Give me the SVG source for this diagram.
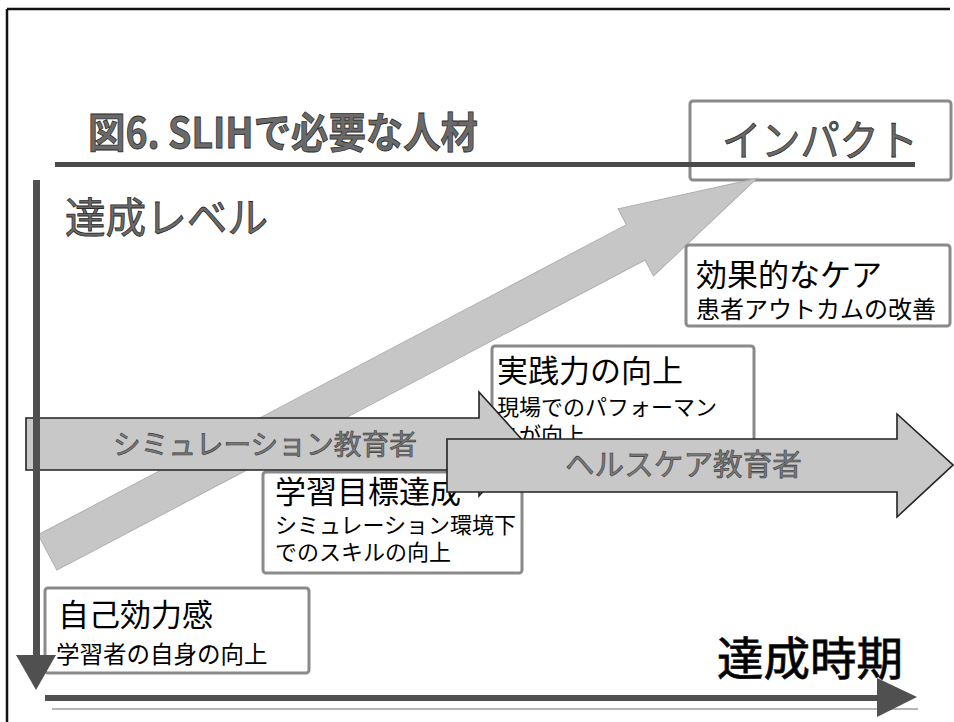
<svg xmlns="http://www.w3.org/2000/svg" width="954" height="722" viewBox="0 0 954 722">
<style>
.frame{stroke:#111;stroke-width:2.5;fill:none}
.box{fill:#fff;stroke:#8a8a8a;stroke-width:3}
.boxo{fill:none;stroke:#8a8a8a;stroke-width:3}
.arw{fill:#c8c8c8;stroke:#222;stroke-width:1.6;stroke-linejoin:miter}
.diag{fill:#c6c6c6;stroke:#b0b0b0;stroke-width:1}
.axis{fill:#505050}
.t{font-family:"Noto Sans CJK JP","Noto Sans",sans-serif;fill:#000}
.big{font-size:31px}
.sub{font-size:22px}
.gray{fill:#6a6a6a;stroke:#2a2a2a;stroke-width:0.8}
.arrt{fill:#7a7a7a;stroke:#3a3a3a;stroke-width:0.6}
</style>
<rect width="954" height="722" fill="#fff"/>
<g id="frame">
<line class="frame" x1="7" y1="9" x2="950" y2="9"/>
<line class="frame" x1="7" y1="9" x2="7" y2="722"/>
</g>
<g id="title">
<text class="t gray" x="88" y="148" font-size="42" font-weight="bold" textLength="390" lengthAdjust="spacingAndGlyphs">図6. SLIHで必要な人材</text>
</g>
<g id="impact">
<rect class="boxo" x="690" y="101" width="261" height="79" rx="3"/>
<text class="t gray" x="722" y="156" font-size="42" textLength="196" lengthAdjust="spacingAndGlyphs">インパクト</text>
</g>
<g id="title-line">
<rect x="55" y="162" width="860" height="5" fill="#4a4a4a"/>
</g>
<g id="y-label">
<text class="t gray" x="65" y="233" font-size="42" textLength="203" lengthAdjust="spacingAndGlyphs">達成レベル</text>
</g>
<g id="diagonal-arrow">
<polygon class="diag" transform="translate(47.5,552.5) rotate(-27.8)" points="0,-20 665,-20 665,-38 802,0 665,38 665,20 0,20"/>
</g>
<g id="node-care">
<rect class="box" x="686" y="245" width="264" height="81" rx="3"/>
<text class="t big" x="696" y="286">効果的なケア</text>
<text class="t" x="696" y="318" font-size="24">患者アウトカムの改善</text>
</g>
<g id="node-practice">
<rect class="box" x="492" y="346" width="262" height="110" rx="3"/>
<text class="t big" x="497" y="382">実践力の向上</text>
<text class="t sub" x="497" y="415">現場でのパフォーマン</text>
<text class="t sub" x="497" y="443">スが向上</text>
</g>
<g id="node-goal">
<rect class="box" x="263" y="472" width="259" height="101" rx="3"/>
<text class="t big" x="275" y="503">学習目標達成</text>
<text class="t sub" x="275" y="533">シミュレーション環境下</text>
<text class="t sub" x="275" y="560">でのスキルの向上</text>
</g>
<g id="node-self">
<rect class="box" x="45" y="588" width="264" height="85" rx="3"/>
<text class="t big" x="58" y="626">自己効力感</text>
<text class="t" x="56" y="663" font-size="23.5">学習者の自身の向上</text>
</g>
<g id="connectors">
<g id="sim-arrow">
<polygon class="arw" points="26,418 479,418 479,392 526,444 479,496 479,470 26,470"/>
<text class="t arrt" x="113" y="455" font-size="28" textLength="304" lengthAdjust="spacingAndGlyphs">シミュレーション教育者</text>
</g>
<g id="health-arrow">
<polygon class="arw" points="447,439 897,439 897,414 953,465 897,517 897,492 447,492"/>
<text class="t arrt" x="565" y="475" font-size="30" textLength="237" lengthAdjust="spacingAndGlyphs">ヘルスケア教育者</text>
</g>
<g id="y-axis">
<rect class="axis" x="33" y="180" width="7" height="476"/>
<polygon class="axis" points="16,655 56,655 36,690"/>
</g>
<g id="x-axis">
<rect class="axis" x="45" y="695" width="835" height="6"/>
<rect x="52" y="708" width="866" height="2" fill="#b5b5b5"/>
<polygon class="axis" points="877,678 917,697 877,717"/>
</g>
</g>
<g id="x-label">
<text class="t" x="717" y="675" font-size="46" fill="#333" stroke="#111" stroke-width="0.8" textLength="186" lengthAdjust="spacingAndGlyphs">達成時期</text>
</g>
</svg>
